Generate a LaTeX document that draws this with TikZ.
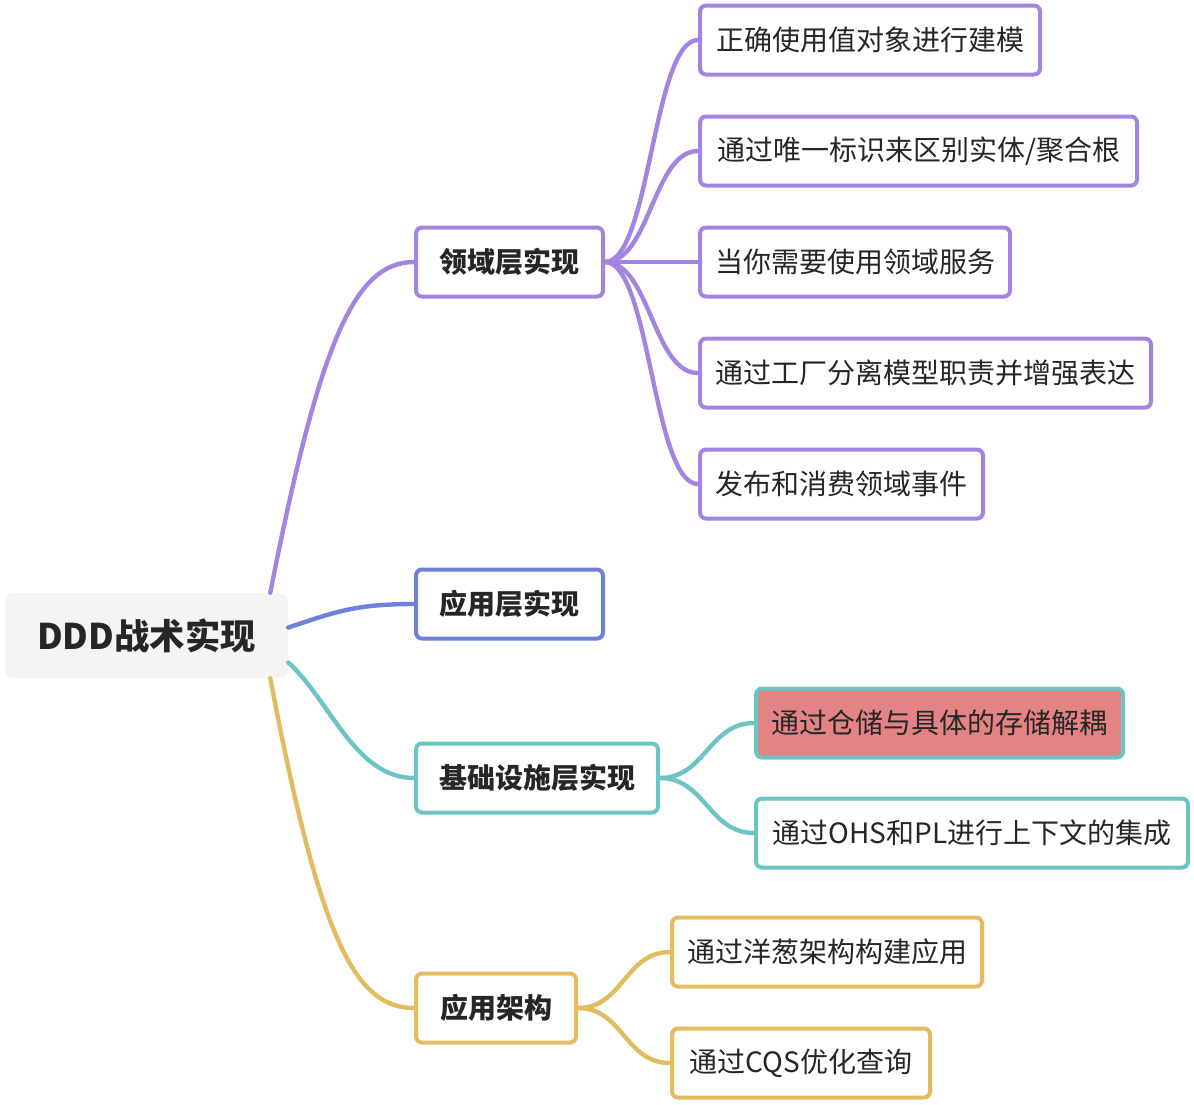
\documentclass[tikz,border=0pt]{standalone}
\usepackage{fontspec}
\setmainfont{Noto Sans CJK SC}
\usetikzlibrary{calc}
\definecolor{cpur}{HTML}{A384E0}
\definecolor{cblu}{HTML}{6F80DD}
\definecolor{ctea}{HTML}{6DC5C3}
\definecolor{cgol}{HTML}{E2BC5F}
\definecolor{cred}{HTML}{E38383}
\definecolor{croot}{HTML}{F4F4F4}
\definecolor{ctxt}{HTML}{262626}
\begin{document}
\begin{tikzpicture}[x=0.75pt,y=-0.75pt,
  base/.style={rounded corners=4.5pt, line width=3pt, minimum height=51.75pt, inner sep=0pt, text=ctxt, font=\fontsize{21}{25}\selectfont, fill=white},
  branch/.style={base, font=\fontsize{21}{25}\selectfont\bfseries},
  conn/.style={line width=3.3pt, line cap=round}]
\useasboundingbox (0,0) rectangle (1194,1104);
% root
\node[fill=croot, rounded corners=6pt, minimum width=212.25pt, minimum height=63.75pt, inner sep=0pt, text=ctxt, font=\fontsize{26.5}{30}\selectfont\bfseries] (root) at (146.5,635.5) {DDD战术实现};
% branches
\node[branch, draw=cpur, minimum width=140.25pt] (A) at (509.5,262) {领域层实现};
\node[branch, draw=cblu, minimum width=140.25pt] (B) at (509.5,604) {应用层实现};
\node[branch, draw=ctea, minimum width=181.5pt] (C) at (537,778) {基础设施层实现};
\node[branch, draw=cgol, minimum width=120pt] (D) at (496,1008) {应用架构};
% leaves
\node[base, draw=cpur, minimum width=255pt] (A1) at (870,40) {正确使用值对象进行建模};
\node[base, draw=cpur, minimum width=327.75pt] (A2) at (918.5,151) {通过唯一标识来区别实体/聚合根};
\node[base, draw=cpur, minimum width=232.5pt] (A3) at (855,262) {当你需要使用领域服务};
\node[base, draw=cpur, minimum width=338.25pt] (A4) at (925.5,373) {通过工厂分离模型职责并增强表达};
\node[base, draw=cpur, minimum width=212.25pt] (A5) at (841.5,484) {发布和消费领域事件};
\node[base, draw=ctea, fill=cred, minimum width=275.25pt] (C1) at (939.5,723) {通过仓储与具体的存储解耦};
\node[base, draw=ctea, minimum width=324pt] (C2) at (972,833) {通过OHS和PL进行上下文的集成};
\node[base, draw=cgol, minimum width=232.5pt] (D1) at (827,952) {通过洋葱架构构建应用};
\node[base, draw=cgol, minimum width=193.5pt] (D2) at (801,1063) {通过CQS优化查询};
% root connectors
\draw[conn, cpur] ($(root.north east)+(-18,0)$) .. controls (320,340) and (355,262) .. (A.west);
\draw[conn, cblu] ($(root.east)+(0,-8)$) .. controls (335,612) and (355,604) .. (B.west);
\draw[conn, ctea] ($(root.east)+(0,27)$) .. controls (330,700) and (355,778) .. (C.west);
\draw[conn, cgol] ($(root.south east)+(-18,0)$) .. controls (320,940) and (355,1008) .. (D.west);
% sub connectors
\foreach \l in {A1,A2,A3,A4,A5}{
  \draw[conn, cpur] (A.east) .. controls +(45,0) and +(-45,0) .. (\l.west);
}
\foreach \l in {C1,C2}{
  \draw[conn, ctea] (C.east) .. controls +(45,0) and +(-45,0) .. (\l.west);
}
\foreach \l in {D1,D2}{
  \draw[conn, cgol] (D.east) .. controls +(45,0) and +(-45,0) .. (\l.west);
}
\end{tikzpicture}
\end{document}
